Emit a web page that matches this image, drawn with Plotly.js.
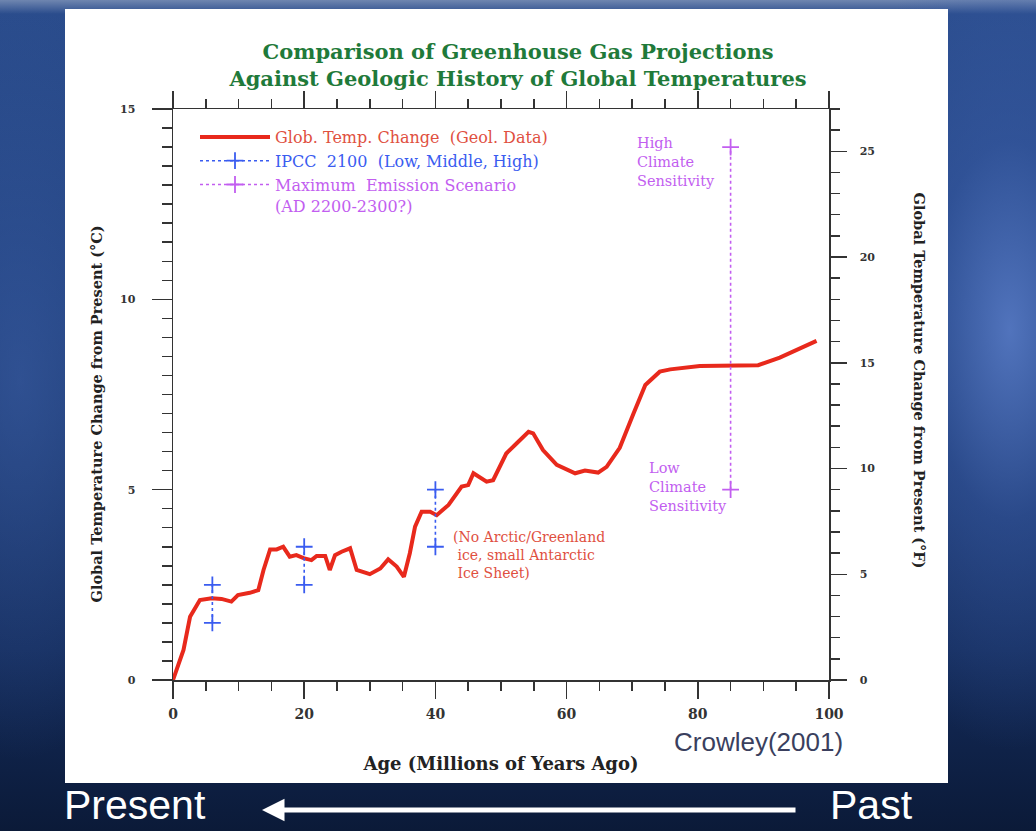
<!DOCTYPE html>
<html>
<head>
<meta charset="utf-8">
<script src="https://cdn.plot.ly/plotly-3.0.1.min.js"></script>
<style>
  html, body { margin: 0; padding: 0; }
  body {
    width: 1036px; height: 831px; overflow: hidden;
    background:
      radial-gradient(ellipse 180px 420px at 1010px 330px, rgba(90,125,200,0.85) 0%, rgba(60,95,170,0.5) 45%, rgba(30,60,120,0) 100%),
      radial-gradient(ellipse 160px 380px at 20px 380px, rgba(60,95,165,0.6) 0%, rgba(30,60,120,0) 100%),
      linear-gradient(to bottom, #6f86b0 0px, #2a4c8c 14px, #1f3f7c 300px, #142c5c 650px, #0b1a38 831px);
  }
  #chart { width: 1036px; height: 831px; }
</style>
</head>
<body>
<div id="chart"></div>
<script>
// ---- Data ----
const ages = [0, 1.6, 2.6, 4.1, 5.9, 7.4, 8.9, 9.9, 11.7, 13, 13.8, 14.8, 15.8, 16.8, 17.8, 18.8, 19.9,
  21.1, 21.9, 23.2, 23.9, 24.7, 25.7, 27, 28, 30, 31.6, 32.8, 34.1, 35.2, 36.1, 36.9, 37.9, 39.2, 40.2,
  42, 44, 45, 45.8, 47.8, 48.8, 50.8, 52.4, 54.2, 54.9, 56.4, 58.5, 60, 61.3, 62.8, 64.8, 66.1, 68.1,
  70.2, 72, 74.2, 75.8, 80.3, 85.4, 89.2, 92.5, 95.6, 98.1];
const tempC = [0, 0.79, 1.66, 2.1, 2.15, 2.13, 2.06, 2.23, 2.29, 2.36, 2.89, 3.43, 3.43, 3.5, 3.24, 3.28, 3.2,
  3.15, 3.26, 3.26, 2.89, 3.28, 3.37, 3.46, 2.89, 2.78, 2.93, 3.17, 2.98, 2.71, 3.33, 4.03, 4.42, 4.42, 4.33,
  4.6, 5.08, 5.12, 5.43, 5.21, 5.25, 5.95, 6.22, 6.52, 6.48, 6.04, 5.65, 5.53, 5.43, 5.5, 5.45, 5.6, 6.1,
  7.0, 7.75, 8.1, 8.16, 8.25, 8.27, 8.27, 8.47, 8.71, 8.91];

const ipccAges = [6, 20, 40];
const ipccLow  = [1.5, 2.5, 3.5];
const ipccHigh = [2.5, 3.5, 5.0];

const maxEmAge  = [85];
const maxEmLow  = [5];
const maxEmHigh = [14];

const xTickVals = [0, 20, 40, 60, 80, 100];
const yTickValsC = [0, 5, 10, 15];
const yTickValsF = [0, 5, 10, 15, 20, 25];

const titleLines = ["Comparison of Greenhouse Gas Projections", "Against Geologic History of Global Temperatures"];
const legendNames = ["Glob. Temp. Change\u00a0\u00a0(Geol. Data)",
                     "IPCC\u00a0\u00a02100\u00a0\u00a0(Low, Middle, High)",
                     "Maximum\u00a0\u00a0Emission Scenario<br>(AD 2200-2300?)"];

// ---- build segment arrays ----
function segs(xs, lo, hi) {
  const X = [], Y = [];
  xs.forEach((v, i) => { X.push(v, v, null); Y.push(lo[i], hi[i], null); });
  return {X, Y};
}
const ip = segs(ipccAges, ipccLow, ipccHigh);
const me = segs(maxEmAge, maxEmLow, maxEmHigh);

const RED = '#e8291c', BLUE = '#3a5cf0', VIOLET = '#c25ef0', SALMON = '#e0503f';
const SERIF = 'DejaVu Serif, Liberation Serif, serif';
const SANS = 'Liberation Sans, Arial, sans-serif';

const traces = [
  { x: ages, y: tempC, type: 'scatter', mode: 'lines',
    line: {color: RED, width: 4},
    name: '<span style="color:' + SALMON + '">' + legendNames[0] + '</span>' },
  { x: ip.X, y: ip.Y, type: 'scatter', mode: 'lines+markers',
    line: {color: BLUE, width: 1.6, dash: 'dot'},
    marker: {symbol: 'cross-thin', size: 12, line: {color: BLUE, width: 1.8}},
    name: '<span style="color:' + BLUE + '">' + legendNames[1] + '</span>' },
  { x: me.X, y: me.Y, type: 'scatter', mode: 'lines+markers',
    line: {color: VIOLET, width: 1.6, dash: 'dot'},
    marker: {symbol: 'cross-thin', size: 12, line: {color: VIOLET, width: 1.8}},
    name: '<span style="color:' + VIOLET + '">' + legendNames[2] + '</span>' },
  // Fahrenheit twin of the temperature series, drawn invisibly to carry the right axis
  { x: ages, y: tempC.map(v => v * 1.8), yaxis: 'y2', type: 'scatter', mode: 'lines',
    line: {color: 'rgba(0,0,0,0)', width: 0}, showlegend: false, hoverinfo: 'skip' }
];

const axisCommon = {
  showline: true, linecolor: '#333', linewidth: 1.5, showgrid: false, zeroline: false,
  ticks: 'outside', tickcolor: '#333', tickwidth: 1.5
};

const L = 173, T = 109, W = 656, H = 571;
const px = v => (v - L) / W;
const py = v => (T + H - v) / H;

const layout = {
  width: 1036, height: 831,
  margin: {l: L, r: 1036 - L - W, t: T, b: 831 - T - H},
  paper_bgcolor: 'rgba(0,0,0,0)', plot_bgcolor: 'rgba(0,0,0,0)',
  title: {
    text: titleLines.join('<br>'),
    font: {family: SERIF, size: 21, color: '#1f7a3a', weight: 'bold'},
    x: 0.5, xref: 'container', y: 1 - 59 / 831, yref: 'container', yanchor: 'middle'
  },
  xaxis: Object.assign({}, axisCommon, {
    range: [0, 100], tickvals: xTickVals, ticklen: 17, mirror: 'ticks', ticklabelstandoff: 4,
    tickfont: {family: SERIF, size: 14, color: '#333', weight: 'bold'},
    minor: {dtick: 5, ticklen: 9, ticks: 'outside', tickcolor: '#333', tickwidth: 1.5},
    title: {text: 'Age (Millions of Years Ago)', standoff: 36,
            font: {family: SERIF, size: 18, color: '#222', weight: 'bold'}}
  }),
  yaxis: Object.assign({}, axisCommon, {
    range: [0, 15], tickvals: yTickValsC, ticklen: 20, ticklabelstandoff: 14,
    tickfont: {family: SERIF, size: 11, color: '#333', weight: 'bold'},
    minor: {dtick: 0.5, ticklen: 10, ticks: 'outside', tickcolor: '#333', tickwidth: 1.5}
  }),
  yaxis2: Object.assign({}, axisCommon, {
    range: [0, 27], tickvals: yTickValsF, ticklen: 16, overlaying: 'y', side: 'right', anchor: 'x',
    ticklabelstandoff: 11,
    tickfont: {family: SERIF, size: 11, color: '#333', weight: 'bold'},
    minor: {dtick: 1, ticklen: 9, ticks: 'outside', tickcolor: '#333', tickwidth: 1.5}
  }),
  showlegend: true,
  legend: {
    x: px(195), y: py(120), xanchor: 'left', yanchor: 'top',
    bgcolor: 'rgba(0,0,0,0)', itemwidth: 70, valign: 'top', tracegroupgap: 0,
    font: {family: SERIF, size: 16, color: '#333'}
  },
  shapes: [
    {type: 'rect', xref: 'paper', yref: 'paper', layer: 'below',
     x0: px(65), x1: px(948), y0: py(783), y1: py(9),
     fillcolor: '#ffffff', line: {width: 0}}
  ],
  annotations: [
    {xref: 'paper', yref: 'paper', x: px(85), y: py(414), textangle: -90, showarrow: false,
     text: 'Global Temperature Change from Present (°C)',
     font: {family: SERIF, size: 14.5, color: '#222', weight: 'bold'}},
    {xref: 'paper', yref: 'paper', x: px(930), y: py(380), textangle: 90, showarrow: false,
     text: 'Global Temperature Change from Present (°F)',
     font: {family: SERIF, size: 14.5, color: '#222', weight: 'bold'}},
    {xref: 'paper', yref: 'paper', x: px(635), y: py(133), xanchor: 'left', yanchor: 'top', align: 'left',
     showarrow: false, text: 'High<br>Climate<br>Sensitivity',
     font: {family: SERIF, size: 14.5, color: VIOLET}},
    {xref: 'paper', yref: 'paper', x: px(647), y: py(458), xanchor: 'left', yanchor: 'top', align: 'left',
     showarrow: false, text: 'Low<br>Climate<br>Sensitivity',
     font: {family: SERIF, size: 14.5, color: VIOLET}},
    {xref: 'paper', yref: 'paper', x: px(451), y: py(527), xanchor: 'left', yanchor: 'top', align: 'left',
     showarrow: false, text: '(No Arctic/Greenland<br>\u00a0ice, small Antarctic<br>\u00a0Ice Sheet)',
     font: {family: SERIF, size: 14, color: SALMON}},
    {xref: 'paper', yref: 'paper', x: px(845), y: py(742), xanchor: 'right', yanchor: 'middle',
     showarrow: false, text: 'Crowley(2001)',
     font: {family: SANS, size: 26, color: '#3a3f5e'}},
    {xref: 'paper', yref: 'paper', x: px(62), y: py(830), xanchor: 'left', yanchor: 'bottom',
     showarrow: false, text: 'Present',
     font: {family: SANS, size: 41, color: '#ffffff'}},
    {xref: 'paper', yref: 'paper', x: px(828), y: py(830), xanchor: 'left', yanchor: 'bottom',
     showarrow: false, text: 'Past',
     font: {family: SANS, size: 41, color: '#ffffff'}},
    {xref: 'paper', yref: 'paper', x: px(262), y: py(810), ax: 535, ay: 0, text: '',
     showarrow: true, arrowhead: 2, arrowsize: 0.9, arrowwidth: 5, arrowcolor: '#ffffff'}
  ]
};

Plotly.newPlot('chart', traces, layout, {displayModeBar: false, staticPlot: true});
</script>
</body>
</html>
